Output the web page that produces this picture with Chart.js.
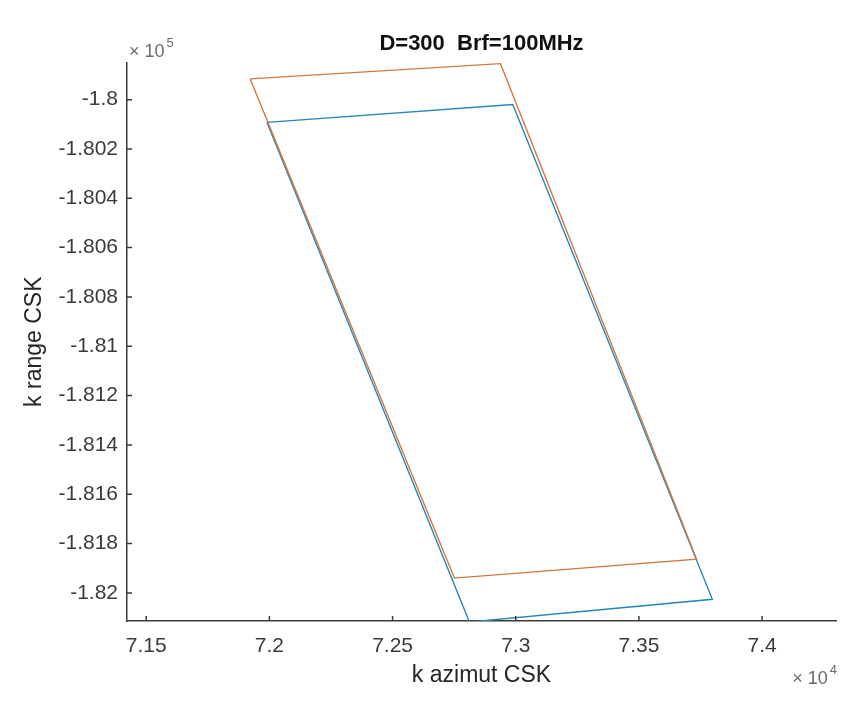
<!DOCTYPE html>
<html>
<head>
<meta charset="utf-8">
<script src="https://cdn.jsdelivr.net/npm/chart.js@4"></script>
<style>
  html, body { margin: 0; padding: 0; background: #fff; }
  #wrap { width: 860px; height: 714px; }
</style>
</head>
<body>
<div id="wrap"><canvas id="myChart" width="860" height="714"></canvas></div>
<script>
// corners of the two footprints (closed polygons)
const orangeX = [71922, 72938, 73734, 72751, 71922];
const orangeY = [-179916, -179854, -181863, -181940, -179916];
const blueX = [71990, 72988, 73798, 72812, 71990];
const blueY = [-180092, -180020, -182026, -182118, -180092];

const xTicks = [71500, 72000, 72500, 73000, 73500, 74000];
const yTicks = [-180000, -180200, -180400, -180600, -180800, -181000, -181200, -181400, -181600, -181800, -182000];

const toPoints = (xs, ys) => xs.map((x, i) => ({ x: x, y: ys[i] }));

const axisColor = '#3a3a3a';
const fontFamily = 'Liberation Sans, Arial, sans-serif';
const tickFont = { family: fontFamily, size: 21 };
const titleFont = { family: fontFamily, size: 23 };

// MATLAB style inward tick marks + exponent labels
const matlabAxes = {
  id: 'matlabAxes',
  afterDraw(chart) {
    const ctx = chart.ctx;
    const area = chart.chartArea;
    const xs = chart.scales.x, ys = chart.scales.y;
    ctx.save();
    ctx.strokeStyle = axisColor;
    ctx.lineWidth = 1.5;
    ctx.beginPath();
    xTicks.forEach(v => {
      const px = xs.getPixelForValue(v);
      ctx.moveTo(px, area.bottom);
      ctx.lineTo(px, area.bottom - 5);
    });
    yTicks.forEach(v => {
      const py = ys.getPixelForValue(v);
      ctx.moveTo(area.left, py);
      ctx.lineTo(area.left + 5, py);
    });
    ctx.stroke();

    ctx.fillStyle = '#6a6a6a';
    ctx.textBaseline = 'alphabetic';
    function expLabel(x, y, exp, alignRight) {
      ctx.font = '18px ' + fontFamily;
      const base = '\u00d7 10';
      const w1 = ctx.measureText(base).width;
      ctx.font = '13px ' + fontFamily;
      const w2 = ctx.measureText(exp).width;
      const x0 = alignRight ? x - w1 - w2 - 1 : x;
      ctx.font = '18px ' + fontFamily;
      ctx.fillText(base, x0, y);
      ctx.font = '13px ' + fontFamily;
      ctx.fillText(exp, x0 + w1 + 2, y - 10);
    }
    expLabel(area.left + 2, 57, '5', false);
    expLabel(area.right, 684, '4', true);
    ctx.restore();
  }
};

const myChart = new Chart('myChart', {
  type: 'scatter',
  data: {
    datasets: [
      {
        label: 'D=300 orange',
        data: toPoints(orangeX, orangeY),
        showLine: true,
        borderColor: '#d2773f',
        borderWidth: 1.4,
        pointRadius: 0,
        tension: 0
      },
      {
        label: 'D=300 blue',
        data: toPoints(blueX, blueY),
        showLine: true,
        borderColor: '#2786b6',
        borderWidth: 1.4,
        pointRadius: 0,
        tension: 0
      }
    ]
  },
  options: {
    responsive: false,
    animation: false,
    events: [],
    layout: { padding: { left: 0, right: 24, top: 0, bottom: 0 } },
    plugins: {
      legend: { display: false },
      tooltip: { enabled: false },
      title: {
        display: true,
        text: 'D=300  Brf=100MHz',
        fullSize: false,
        color: '#111',
        font: { family: fontFamily, size: 22, weight: 'bold' },
        padding: { top: 31, bottom: 5 }
      }
    },
    scales: {
      x: {
        type: 'linear',
        min: 71422,
        max: 74300,
        afterBuildTicks: scale => { scale.ticks = xTicks.map(v => ({ value: v })); },
        afterFit: scale => { scale.height = 93; },
        grid: { display: false, drawTicks: false },
        border: { display: true, color: axisColor, width: 1.5 },
        ticks: {
          color: '#3a3a3a',
          font: tickFont,
          padding: 13,
          maxRotation: 0,
          callback: v => String(Number((v / 1e4).toFixed(4)))
        },
        title: {
          display: true,
          text: 'k azimut CSK',
          color: '#262626',
          font: titleFont,
          padding: { top: 0, bottom: 25 }
        }
      },
      y: {
        type: 'linear',
        min: -182114,
        max: -179849,
        afterBuildTicks: scale => { scale.ticks = yTicks.map(v => ({ value: v })); },
        afterFit: scale => { scale.width = 127; },
        grid: { display: false, drawTicks: false },
        border: { display: true, color: axisColor, width: 1.5 },
        ticks: {
          color: '#3a3a3a',
          font: tickFont,
          padding: 9,
          callback: v => String(Number((v / 1e5).toFixed(4)))
        },
        title: {
          display: true,
          text: 'k range CSK',
          color: '#262626',
          font: titleFont,
          padding: { top: 21, bottom: 0 }
        }
      }
    }
  },
  plugins: [matlabAxes]
});
</script>
</body>
</html>
